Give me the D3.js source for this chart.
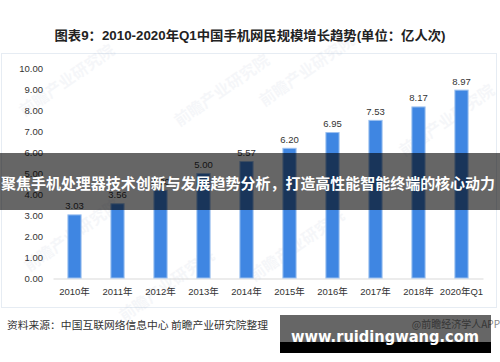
<!DOCTYPE html>
<html><head><meta charset="utf-8">
<script src="https://cdn.jsdelivr.net/npm/d3@7"></script>
<style>
html,body{margin:0;padding:0;background:#fff;}
svg{display:block;}
</style></head>
<body>
<script>
const title = "图表9：2010-2020年Q1中国手机网民规模增长趋势(单位：亿人次)";
const categories = ["2010年","2011年","2012年","2013年","2014年","2015年","2016年","2017年","2018年","2020年Q1"];
const values = [3.03, 3.56, 4.20, 5.00, 5.57, 6.20, 6.95, 7.53, 8.17, 8.97];
const yTicks = [0,1,2,3,4,5,6,7,8,9,10];
const source = "资料来源：中国互联网络信息中心 前瞻产业研究院整理";
const credit = "@前瞻经济学人APP";
const banner = "聚焦手机处理器技术创新与发展趋势分析，打造高性能智能终端的核心动力";
const site = "www.ruidingwang.com";
const watermark = "前瞻产业研究院";

const W = 500, H = 362;
const FONT = "'Liberation Sans','Noto Sans CJK SC',sans-serif";
const CJK = "'Noto Sans CJK SC','Liberation Sans',sans-serif";

const svg = d3.select("body").append("svg").attr("width", W).attr("height", H);

// chart panel border
svg.append("rect").attr("x", 1.5).attr("y", 53.5).attr("width", 495).attr("height", 254)
  .attr("fill", "#fff").attr("stroke", "#e6ecf3").attr("stroke-width", 1);

// faint watermarks
const wm = [[70,85],[225,95],[310,75],[450,125],[75,240],[300,250],[170,290]];
svg.append("g").selectAll("text").data(wm).join("text")
  .attr("transform", d => `translate(${d[0]},${d[1]}) rotate(-35)`)
  .attr("text-anchor", "middle")
  .attr("font-family", CJK).attr("font-weight", "bold").attr("font-size", 16)
  .attr("fill", "#7f93b0").attr("opacity", 0.07)
  .text(watermark);

// title
svg.append("text").attr("x", 250).attr("y", 40).attr("text-anchor", "middle")
  .attr("font-family", FONT).attr("font-weight", "bold").attr("font-size", 13)
  .attr("fill", "#222").attr("textLength", 391).attr("lengthAdjust", "spacingAndGlyphs")
  .text(title);

const x = d3.scaleBand().domain(categories).range([53, 483]).paddingInner(0.67).paddingOuter(0.335);
const y = d3.scaleLinear().domain([0, 10]).range([278, 68]);

// y axis
const yAxis = svg.append("g").attr("transform", "translate(47,0)")
  .call(d3.axisLeft(y).tickValues(yTicks).tickSize(0).tickPadding(4).tickFormat(d3.format(".2f")));
yAxis.select(".domain").remove();
yAxis.selectAll("text").attr("font-family", FONT).attr("font-size", 9.5).attr("fill", "#333");

// x axis
const xAxis = svg.append("g").attr("transform", "translate(0,278.5)")
  .call(d3.axisBottom(x).tickSize(0).tickPadding(10));
xAxis.select(".domain").attr("stroke", "#d9d9d9");
xAxis.selectAll("text").attr("font-family", FONT).attr("font-size", 9.5).attr("fill", "#333");

// bars
svg.append("g").selectAll("rect").data(values).join("rect")
  .attr("x", (d, i) => x(categories[i]) + 0.5)
  .attr("y", d => y(d) + 0.5)
  .attr("width", x.bandwidth() - 1)
  .attr("height", d => y(0) - y(d) - 0.5)
  .attr("fill", "#3f86e2").attr("stroke", "#9cc0ef").attr("stroke-width", 1);

// value labels
svg.append("g").selectAll("text").data(values).join("text")
  .attr("x", (d, i) => x(categories[i]) + x.bandwidth() / 2)
  .attr("y", d => y(d) - 5)
  .attr("text-anchor", "middle")
  .attr("font-family", FONT).attr("font-size", 9.5).attr("fill", "#333")
  .text(d => d3.format(".2f")(d));

// source
svg.append("text").attr("x", 7).attr("y", 329)
  .attr("font-family", CJK).attr("font-size", 10.5).attr("fill", "#333")
  .attr("textLength", 261).attr("lengthAdjust", "spacingAndGlyphs")
  .text(source);

svg.append("text").attr("x", 500).attr("y", 328).attr("text-anchor", "end")
  .attr("font-family", CJK).attr("font-size", 10).attr("fill", "#888")
  .text(credit);

// banner overlay
svg.append("rect").attr("x", 0).attr("y", 153).attr("width", W).attr("height", 57)
  .attr("fill", "#000").attr("opacity", 0.6);
svg.append("text").attr("x", 248).attr("y", 188.5).attr("text-anchor", "middle")
  .attr("font-family", CJK).attr("font-weight", "bold").attr("font-size", 15)
  .attr("fill", "#fff").attr("textLength", 494).attr("lengthAdjust", "spacingAndGlyphs")
  .text(banner);

// site overlay
svg.append("rect").attr("x", 280).attr("y", 315).attr("width", 211).attr("height", 27)
  .attr("fill", "#000").attr("opacity", 0.6);
svg.append("rect").attr("x", 280).attr("y", 342).attr("width", 211).attr("height", 11)
  .attr("fill", "#000");
svg.append("text").attr("x", 291).attr("y", 341.5)
  .attr("font-family", "'DejaVu Sans','Liberation Sans',sans-serif").attr("font-weight", "bold").attr("font-size", 16)
  .attr("fill", "#fff").attr("textLength", 188).attr("lengthAdjust", "spacingAndGlyphs")
  .text(site);
</script>
</body></html>
